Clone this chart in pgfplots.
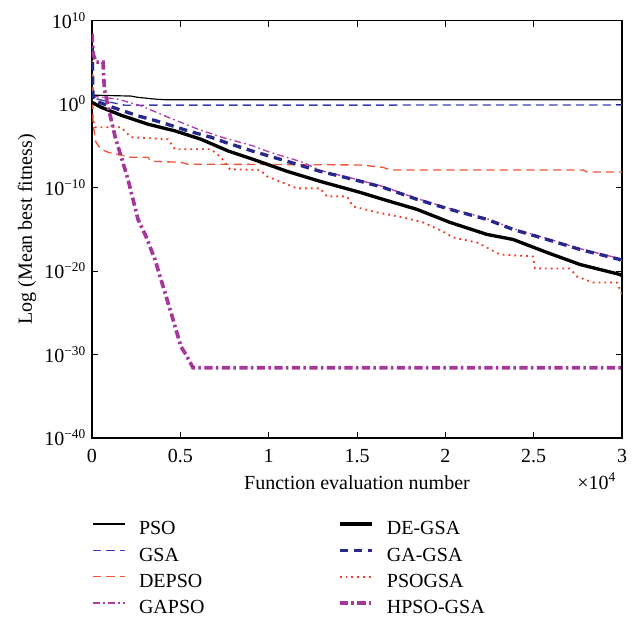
\documentclass[border=0pt]{standalone}
\usepackage{fontspec}
\setmainfont{Liberation Serif}
\usepackage{pgfplots}
\pgfplotsset{compat=1.18}
\definecolor{gsablue}{RGB}{60,60,175}
\definecolor{gagsablue}{RGB}{40,40,140}
\definecolor{depsored}{RGB}{240,85,55}
\definecolor{psogsared}{RGB}{240,60,40}
\definecolor{gapsomag}{RGB}{175,60,170}
\definecolor{hpsomag}{RGB}{165,55,155}
\newcommand{\F}{\fontsize{12}{14}\selectfont}
\begin{document}
\begin{tikzpicture}
\useasboundingbox (-55.2pt,-109.2pt) rectangle (326.4pt,262.8pt);
\begin{axis}[
  at={(0pt,0pt)}, anchor=south west,
  scale only axis, width=318pt, height=250.5pt,
  xmin=0, xmax=30000, ymin=-40, ymax=10,
  scaled x ticks=false, scaled y ticks=false,
  xtick={0,5000,10000,15000,20000,25000,30000},
  xticklabels={0,0.5,1,1.5,2,2.5,3},
  ytick={-40,-30,-20,-10,0,10},
  yticklabels={10\textsuperscript{−40},10\textsuperscript{−30},10\textsuperscript{−20},10\textsuperscript{−10},10\textsuperscript{0},10\textsuperscript{10}},
  tick align=inside, major tick length=3.6pt,
  tick style={black, line width=0.6pt},
  axis line style={black, line width=0.8pt},
  tick label style={font=\F},
  xticklabel style={yshift=-3pt},
  xlabel={Function evaluation number},
  ylabel={Log (Mean best fitness)},
  every axis x label/.style={at={(rel axis cs:0.5,0)}, anchor=base, yshift=-30.6pt, font=\F},
  every axis y label/.style={at={(rel axis cs:0,0.5)}, xshift=-36pt, rotate=90, anchor=base, font=\F},
  legend columns=2,
  legend cell align=left,
  legend style={at={(rel axis cs:0,0)}, anchor=north west, yshift=-49.5pt,
    draw=none, fill=none, inner sep=0pt, font=\F, row sep=4.8pt,
    nodes={inner sep=0pt, text height=8.4pt, text depth=2.6pt},
    /tikz/every odd column/.append style={column sep=8.0pt},
    /tikz/every even column/.append style={column sep=80pt}},
  legend image code/.code={\draw[#1] (0pt,3.6pt) -- (19.2pt,3.6pt);},
]
% PSO
\addplot[forget plot, black, line width=0.7pt] coordinates {
(0,1.06) (2200,0.95) (2600,0.8) (3700,0.56) (4300,0.5) (30000,0.5)};
% GSA
\addplot[forget plot, gsablue, line width=0.8pt, dash pattern=on 5pt off 3pt] coordinates {
(0,8.4) (60,1.2) (170,0.66) (1019,0.22) (1868,-0.14) (30000,-0.12)};
% DEPSO
\addplot[forget plot, depsored, line width=0.8pt, dash pattern=on 5pt off 3pt] coordinates {
(0,8.4) (60,-2.5) (226,-4.58) (509,-5.42) (906,-5.78) (2207,-6.38) (3170,-6.38) (3339,-6.86)
(5037,-6.98) (5434,-7.22) (7528,-7.22) (15169,-7.3) (16471,-7.58) (16867,-7.9) (27790,-7.9)
(28017,-8.14) (30000,-8.14)};
% GAPSO
\addplot[forget plot, gapsomag, line width=0.8pt, dash pattern=on 4pt off 2pt on 1pt off 2pt] coordinates {
(0,0.94) (1472,0.58) (2773,-0.22) (4302,-1.58) (6000,-3.02) (7415,-4.02) (9113,-5.02)
(10075,-5.78) (11943,-6.98) (12905,-7.95) (14773,-8.92) (16471,-9.88) (18395,-11.32)
(20263,-12.52) (22357,-13.72) (23829,-14.92) (25753,-16.12) (27621,-17.32) (29885,-18.52) (30000,-18.76)};
% GA-GSA
\addplot[forget plot, gagsablue, line width=2pt, dash pattern=on 5pt off 3.5pt] coordinates {
(0,8.4) (57,1.0) (170,0.38) (1472,-0.62) (2604,-1.42) (3905,-2.18) (5434,-3.22) (6735,-3.98)
(7528,-4.58) (9113,-5.66) (11037,-6.86) (12905,-8.06) (14773,-9.02) (16471,-9.98) (18395,-11.42)
(20263,-12.62) (22357,-13.82) (23829,-15.02) (25753,-16.22) (27621,-17.42) (29885,-18.62) (30000,-18.86)};
% DE-GSA
\addplot[forget plot, black, line width=2pt] coordinates {
(0,0.2) (509,-0.38) (1641,-1.34) (3170,-2.42) (4698,-3.22) (6169,-4.22) (7698,-5.62)
(9113,-6.62) (11037,-8.06) (12905,-9.26) (15169,-10.58) (16471,-11.42) (18395,-12.62)
(20263,-14.18) (22357,-15.62) (23829,-16.22) (25753,-17.78) (27621,-19.22) (29885,-20.42) (30000,-20.54)};
% PSOGSA
\addplot[forget plot, psogsared, line width=1.1pt, dash pattern=on 1.1pt off 2.4pt] coordinates {
(0,-1.4) (170,-2.78) (1641,-2.78) (2207,-3.98) (4302,-4.22) (4698,-5.42) (6735,-5.42)
(7301,-6.38) (7811,-7.82) (9509,-7.9) (9905,-8.66) (11603,-10.1) (12905,-10.1) (13301,-11.06)
(14433,-11.06) (14773,-12.26) (16131,-12.98) (17603,-13.58) (18735,-14.18) (19867,-15.26)
(20433,-15.98) (21791,-16.58) (23093,-18.02) (24961,-18.26) (25074,-19.7) (27055,-19.7)
(27451,-20.66) (28357,-21.38) (29715,-21.38) (29885,-22.22) (30000,-22.8)};
% HPSO-GSA
\addplot[forget plot, hpsomag, line width=2.2pt, dash pattern=on 5pt off 2pt on 1.5pt off 2pt] coordinates {
(0,8.4) (60,6.0) (226,5.02) (623,5.02) (700,1.8) (906,-0.26) (1302,-3.86) (1641,-6.26)
(2037,-9.02) (2604,-13.82) (3056,-15.86) (3566,-18.62) (3905,-21.02) (4471,-24.98)
(5037,-29.06) (5320,-30.02) (5717,-31.58) (30000,-31.58)};
% legend (interleaved for two columns)
\addlegendimage{black, line width=0.7pt}
\addlegendentry{PSO}
\addlegendimage{black, line width=2pt}
\addlegendentry{DE-GSA}
\addlegendimage{gsablue, line width=0.8pt, dash pattern=on 5pt off 3pt}
\addlegendentry{GSA}
\addlegendimage{gagsablue, line width=2pt, dash pattern=on 5pt off 3.5pt}
\addlegendentry{GA-GSA}
\addlegendimage{depsored, line width=0.8pt, dash pattern=on 5pt off 3pt}
\addlegendentry{DEPSO}
\addlegendimage{psogsared, line width=1.1pt, dash pattern=on 1.1pt off 2.4pt}
\addlegendentry{PSOGSA}
\addlegendimage{gapsomag, line width=0.8pt, dash pattern=on 4pt off 2pt on 1pt off 2pt}
\addlegendentry{GAPSO}
\addlegendimage{hpsomag, line width=2.2pt, dash pattern=on 5pt off 2pt on 1.5pt off 2pt}
\addlegendentry{HPSO-GSA}
\end{axis}
\node[anchor=base east, font=\F] at (318pt,-30.6pt) {×10\textsuperscript{4}};
\end{tikzpicture}
\end{document}
